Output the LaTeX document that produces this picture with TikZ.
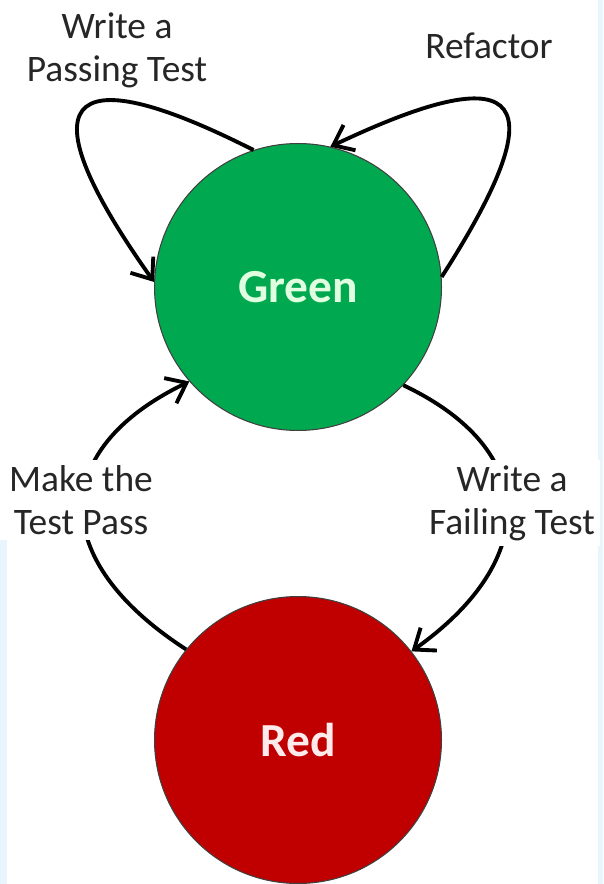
\documentclass[tikz,border=0pt]{standalone}
\usepackage{fontspec}
\setmainfont{Carlito}
\usetikzlibrary{arrows.meta}
\definecolor{tddgreen}{HTML}{00A94F}
\definecolor{tddred}{HTML}{C00000}
\definecolor{edgeblue}{HTML}{E8F5FC}

\begin{document}
\begin{tikzpicture}[x=0.02cm, y=-0.02cm,
    state/.style={circle, draw=black!75, line width=0.6pt, minimum size=5.74cm, inner sep=0pt, font=\fontsize{27}{32}\selectfont\bfseries},
    greenstate/.style={state, fill=tddgreen, text=white!88!green},
    redstate/.style={state, fill=tddred, text=white!92!red},
    phase/.style={align=center, text=black!85, font=\fontsize{21.3}{24.5}\selectfont, fill=white, inner sep=3pt},
    flow/.style={-{Straight Barb[length=3.6mm, width=5.6mm]}, line width=2.2pt, black}
]
\useasboundingbox (0,0) rectangle (603,884);
\fill[edgeblue] (598,0) rectangle (603,884);
\fill[edgeblue] (0,540) rectangle (7,884);

\node[greenstate] (green) at (298,287) {Green};
\node[redstate] (red) at (298,740) {Red};

% loops on the green state
\draw[flow] (green.108) .. controls (60,52) and (25,100) .. (green.178);
\draw[flow] (green.4) .. controls (555,100) and (530,52) .. (green.77);

% cycle between the two states
\draw[flow] (green.317) .. controls (540,450) and (540,560) .. (red.38);
\draw[flow] (red.141) .. controls (48,560) and (48,450) .. (green.221);

\node[phase] (passing) at (117,50) {Write a\\Passing Test};
\node[phase] (refactor) at (489,46) {Refactor};
\node[phase] (makepass) at (81,500) {Make the\\Test Pass};
\node[phase] (failing) at (512,503) {Write a\\Failing Test};
\end{tikzpicture}
\end{document}
